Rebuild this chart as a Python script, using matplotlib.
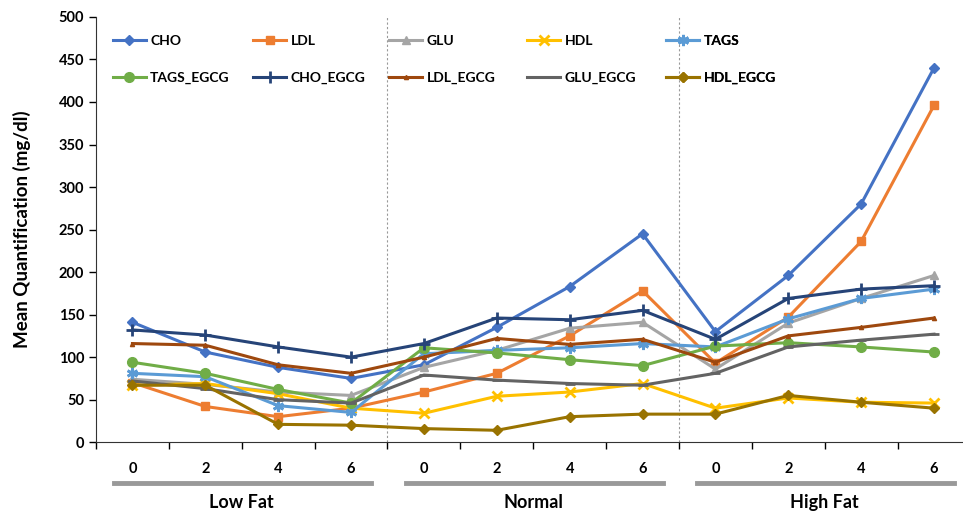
import matplotlib.pyplot as plt
from matplotlib.lines import Line2D

plt.rcParams['font.family'] = ['Lato', 'DejaVu Sans']

# 12 category points: 0,2,4,6 weeks within each diet group
week_labels = ['0', '2', '4', '6'] * 3
groups = ['Low Fat', 'Normal', 'High Fat']

cho = [141, 106, 88, 75, 91, 135, 183, 245, 130, 196, 280, 440]
ldl = [70, 42, 30, 40, 59, 81, 125, 178, 93, 147, 236, 396]
glu = [74, 68, 59, 55, 88, 108, 134, 141, 86, 140, 169, 196]
hdl = [67, 69, 57, 40, 34, 54, 59, 69, 40, 52, 47, 46]
tags = [81, 77, 43, 35, 104, 108, 111, 116, 112, 145, 169, 180]
tags_egcg = [94, 81, 62, 46, 111, 105, 97, 90, 113, 117, 112, 106]
cho_egcg = [132, 126, 112, 100, 116, 146, 144, 155, 121, 169, 180, 184]
ldl_egcg = [116, 114, 91, 81, 100, 122, 115, 121, 94, 125, 135, 146]
glu_egcg = [72, 63, 50, 46, 79, 73, 69, 67, 81, 112, 120, 127]
hdl_egcg = [67, 67, 21, 20, 16, 14, 30, 33, 33, 55, 47, 40]

series = [
    ('CHO', cho, '#4472C4', 'D', 5),
    ('LDL', ldl, '#ED7D31', 's', 6),
    ('GLU', glu, '#A5A5A5', '^', 6),
    ('HDL', hdl, '#FFC000', 'x', 7),
    ('TAGS', tags, '#5B9BD5', (6, 2, 0), 8),
    ('TAGS_EGCG', tags_egcg, '#70AD47', 'o', 7),
    ('CHO_EGCG', cho_egcg, '#264478', '+', 9),
    ('LDL_EGCG', ldl_egcg, '#9E480E', '^', 3),
    ('GLU_EGCG', glu_egcg, '#636363', '_', 7),
    ('HDL_EGCG', hdl_egcg, '#997300', 'D', 5),
]

fig = plt.figure(figsize=(9.63, 5.13), dpi=100)
ax = fig.add_axes([0.0997, 0.138, 0.908, 0.829])

x = list(range(len(week_labels)))
handles = {}
for name, vals, col, mk, ms in series:
    mew = 2 if mk in ('x', '+', '_') or isinstance(mk, tuple) else 1
    h, = ax.plot(x, vals, color=col, marker=mk, markersize=ms, linewidth=2.2,
                 markeredgewidth=mew, label=name)
    handles[name] = h

# separators between diet groups
for sx in (3.5, 7.5):
    ax.axvline(sx, color='#999999', linestyle=(0, (2, 2)), linewidth=0.8, zorder=0)

ax.set_xlim(-0.465, 11.5)
ax.set_ylim(0, 500)
ax.set_yticks(range(0, 501, 50))
ax.set_xticks([i + 0.5 for i in range(-1, 12)], minor=False)
ax.set_xticklabels([])
ax.set_xticks(x, minor=True)
ax.set_xticklabels(week_labels, minor=True, fontsize=10.5, fontweight='bold')
ax.tick_params(axis='x', which='major', length=5, direction='out', width=1)
ax.tick_params(axis='x', which='minor', length=0, pad=14)
ax.tick_params(axis='y', length=5, direction='out', labelsize=10.5, width=1)
for lab in ax.get_yticklabels():
    lab.set_fontweight('bold')
ax.spines['top'].set_visible(False)
ax.spines['right'].set_visible(False)
ax.spines['left'].set_color('#333333')
ax.spines['bottom'].set_color('#333333')
ax.set_ylabel('Mean Quantification (mg/dl)', fontsize=13.5, fontweight='bold', labelpad=20)

# group underlines and names
for gi, gname in enumerate(groups):
    x0 = gi * 4 - 0.25
    x1 = gi * 4 + 3 + 0.28
    ax.add_line(Line2D([x0, x1], [-0.095, -0.095], transform=ax.get_xaxis_transform(),
                       color='#999999', linewidth=3.5, clip_on=False))
    ax.text(gi * 4 + 1.5, -0.122, gname, transform=ax.get_xaxis_transform(),
            ha='center', va='top', fontsize=13, fontweight='bold')

# legend laid out as five fixed-position columns of two entries each
legend_cols = [('CHO', 'TAGS_EGCG'), ('LDL', 'CHO_EGCG'), ('GLU', 'LDL_EGCG'),
               ('HDL', 'GLU_EGCG'), ('TAGS', 'HDL_EGCG')]
col_x = [0.019, 0.1796, 0.335, 0.493, 0.652]
for cx, names in zip(col_x, legend_cols):
    leg = ax.legend([handles[n] for n in names], names, loc='upper left',
                    bbox_to_anchor=(cx, 0.957), frameon=False, handlelength=2.4,
                    handletextpad=0.3, labelspacing=1.8, borderpad=0, borderaxespad=0,
                    prop={'size': 10, 'weight': 'bold'})
    ax.add_artist(leg)

fig.savefig('out.png', dpi=100)
